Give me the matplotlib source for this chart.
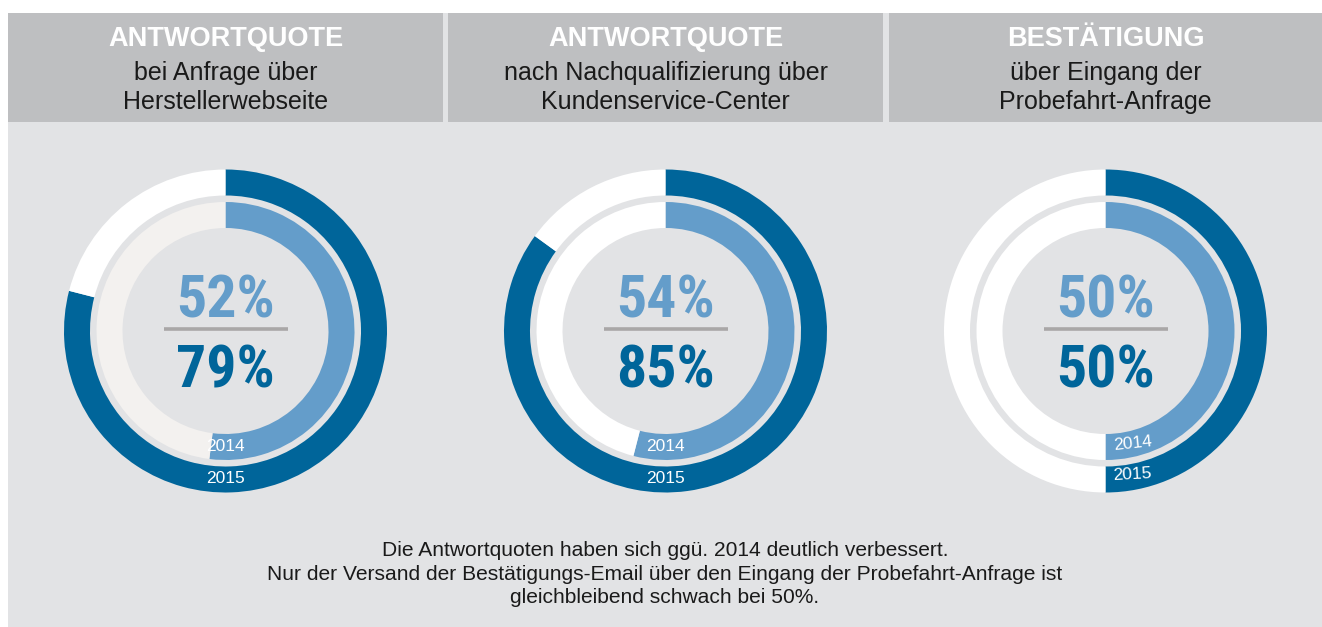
import matplotlib
matplotlib.use("Agg")
import matplotlib.pyplot as plt
from matplotlib.patches import Rectangle

# data
titles = ["ANTWORTQUOTE", "ANTWORTQUOTE", "BESTÄTIGUNG"]
subtitles = ["bei Anfrage über\nHerstellerwebseite",
             "nach Nachqualifizierung über\nKundenservice-Center",
             "über Eingang der\nProbefahrt-Anfrage"]
rate_2014 = [52, 54, 50]
rate_2015 = [79, 85, 50]
year_labels = ["2014", "2015"]
footer = ("Die Antwortquoten haben sich ggü. 2014 deutlich verbessert.\n"
          "Nur der Versand der Bestätigungs-Email über den Eingang der Probefahrt-Anfrage ist\n"
          "gleichbleibend schwach bei 50%.")

DARK = "#00659a"
LIGHT = "#649dca"
BODY = "#e2e3e5"
HEAD = "#bebfc1"
INNER_REST = ["#f3f1ef", "white", "white"]

W, H = 1322, 627
fig = plt.figure(figsize=(W / 100, H / 100), dpi=100)
fig.patch.set_facecolor("white")

# main pixel axes for backgrounds and text
ax = fig.add_axes([0, 0, 1, 1])
ax.set_xlim(0, W)
ax.set_ylim(H, 0)
ax.axis("off")

ax.add_patch(Rectangle((8, 13), W - 8, H - 13, color=BODY, lw=0))
panels = [(8, 443), (448, 883), (889, 1322)]
sans = ["Liberation Sans", "DejaVu Sans"]
narrow = ["Liberation Sans Narrow", "DejaVu Sans Condensed", "Roboto Condensed", "Roboto"]

for i, (x0, x1) in enumerate(panels):
    ax.add_patch(Rectangle((x0, 13), x1 - x0, 109, color=HEAD, lw=0))
    cx = (x0 + x1) / 2
    ax.text(cx, 39, titles[i], ha="center", va="center", color="white",
            fontsize=19.5, fontweight="bold", family=sans)
    ax.text(cx, 87.5, subtitles[i], ha="center", va="center", color="#1a1a1a",
            fontsize=18, family=sans, linespacing=1.22)

ax.text(665, 574, footer, ha="center", va="center", color="#1a1a1a",
        fontsize=15.1, family=sans, linespacing=1.32)

R = 161.5
cy = 331
r_in = 129 / R
ring_w = 26 / R
for i, (x0, x1) in enumerate(panels):
    cx = (x0 + x1) / 2
    # divider + centre values on the main axes
    ax.plot([cx - 62, cx + 62], [329, 329], color="#a9a7a7", lw=2.6,
            solid_capstyle="butt")
    ax.text(cx, 317, f"{rate_2014[i]}%", ha="center", va="baseline", color=LIGHT,
            fontsize=43, fontweight="bold", fontstretch="condensed", family=narrow)
    ax.text(cx, 388, f"{rate_2015[i]}%", ha="center", va="baseline", color=DARK,
            fontsize=43, fontweight="bold", fontstretch="condensed", family=narrow)

    pa = fig.add_axes([(cx - R) / W, 1 - (cy + R) / H, 2 * R / W, 2 * R / H])
    pa.pie([rate_2015[i], 100 - rate_2015[i]], colors=[DARK, "white"],
           startangle=90, counterclock=False, radius=1,
           wedgeprops=dict(width=ring_w, linewidth=0))
    pa.pie([rate_2014[i], 100 - rate_2014[i]], colors=[LIGHT, INNER_REST[i]],
           startangle=90, counterclock=False, radius=r_in,
           wedgeprops=dict(width=ring_w, linewidth=0))
    pa.set_xlim(-1, 1)
    pa.set_ylim(-1, 1)
    pa.axis("off")

    if rate_2015[i] == 50:
        pa.text(0.045, -0.695, year_labels[0], ha="left", va="center", color="white",
                fontsize=12.5, family=sans, rotation=6)
        pa.text(0.045, -0.89, year_labels[1], ha="left", va="center", color="white",
                fontsize=12.5, family=sans, rotation=3)
    else:
        pa.text(0, -0.715, year_labels[0], ha="center", va="center", color="white",
                fontsize=12.5, family=sans)
        pa.text(0, -0.915, year_labels[1], ha="center", va="center", color="white",
                fontsize=12.5, family=sans)

fig.savefig("out.png", dpi=100, facecolor=fig.get_facecolor())
